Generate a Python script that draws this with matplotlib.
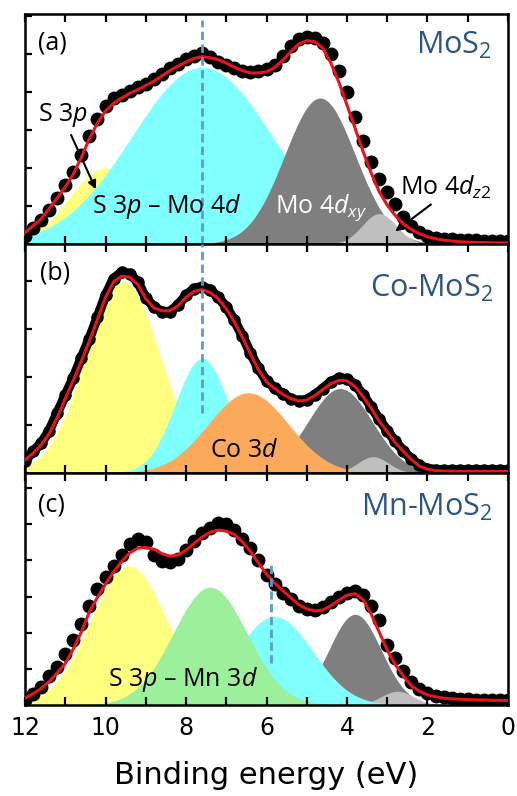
import numpy as np
import matplotlib
matplotlib.use("Agg")
import matplotlib.pyplot as plt
from matplotlib.ticker import MultipleLocator

plt.rcParams['font.family'] = ['DejaVu Sans']
plt.rcParams['mathtext.fontset'] = 'custom'
plt.rcParams['mathtext.rm'] = 'Open Sans'
plt.rcParams['mathtext.it'] = 'Open Sans:italic'

# energie (eV), pas de 0.2 eV, de 12 a 0
energy = np.round(np.arange(12.0, -0.01, -0.2), 1)

# MoS2 : points mesures et ajustement
mos2_data = [0.22, 0.42, 0.62, 0.90, 1.20, 1.55, 1.90, 2.35, 2.85, 3.30,
             3.62, 3.85, 3.92, 4.02, 4.12, 4.22, 4.33, 4.48, 4.62, 4.74,
             4.86, 4.95, 5.02, 4.92, 4.80, 4.72, 4.62, 4.55, 4.52, 4.55,
             4.60, 4.72, 4.95, 5.22, 5.40, 5.45, 5.42, 5.30, 5.00, 4.55,
             4.00, 3.35, 2.72, 2.15, 1.72, 1.38, 1.05, 0.72, 0.48, 0.32,
             0.22, 0.17, 0.14, 0.12, 0.11, 0.10, 0.10, 0.09, 0.09, 0.09,
             0.09]
mos2_fit = [0.30, 0.48, 0.66, 0.93, 1.21, 1.50, 1.84, 2.28, 2.77, 3.18,
            3.50, 3.70, 3.84, 3.96, 4.06, 4.17, 4.28, 4.42, 4.56, 4.68,
            4.79, 4.88, 4.93, 4.90, 4.85, 4.76, 4.65, 4.56, 4.50, 4.50,
            4.53, 4.64, 4.83, 5.06, 5.26, 5.35, 5.32, 5.15, 4.76, 4.25,
            3.65, 3.05, 2.43, 1.87, 1.38, 1.02, 0.75, 0.53, 0.38, 0.27,
            0.19, 0.14, 0.10, 0.08, 0.06, 0.05, 0.04, 0.04, 0.03, 0.03,
            0.03]

# Co-MoS2
co_data = [0.25, 0.45, 0.62, 0.88, 1.25, 1.62, 1.98, 2.40, 2.80, 3.25,
           3.70, 4.05, 4.18, 4.15, 3.98, 3.65, 3.46, 3.36, 3.36, 3.50,
           3.70, 3.84, 3.88, 3.82, 3.66, 3.46, 3.18, 2.86, 2.50, 2.18,
           1.92, 1.77, 1.65, 1.55, 1.50, 1.53, 1.63, 1.76, 1.90, 1.98,
           1.96, 1.84, 1.63, 1.38, 1.12, 0.88, 0.66, 0.46, 0.29, 0.16,
           0.09, 0.07, 0.06, 0.06, 0.06, 0.06, 0.06, 0.06, 0.06, 0.06,
           0.06]
co_fit = [0.27, 0.41, 0.58, 0.82, 1.15, 1.55, 1.93, 2.33, 2.75, 3.20,
          3.66, 3.98, 4.10, 4.08, 3.93, 3.63, 3.44, 3.38, 3.38, 3.48,
          3.66, 3.78, 3.82, 3.76, 3.63, 3.42, 3.15, 2.83, 2.48, 2.15,
          1.90, 1.76, 1.64, 1.55, 1.50, 1.52, 1.61, 1.74, 1.86, 1.93,
          1.92, 1.80, 1.59, 1.35, 1.08, 0.86, 0.63, 0.45, 0.28, 0.14,
          0.08, 0.05, 0.04, 0.04, 0.03, 0.03, 0.03, 0.03, 0.03, 0.03,
          0.03]

# Mn-MoS2
mn_data = [0.15, 0.30, 0.50, 0.80, 1.05, 1.40, 1.80, 2.25, 2.75, 3.20,
           3.55, 3.85, 4.15, 4.45, 4.58, 4.50, 4.15, 3.98, 3.95, 4.05,
           4.30, 4.55, 4.75, 4.90, 5.05, 5.00, 4.85, 4.60, 4.35, 4.00,
           3.60, 3.35, 3.10, 2.92, 2.75, 2.66, 2.62, 2.70, 2.85, 3.00,
           3.10, 3.15, 3.05, 2.75, 2.35, 1.65, 1.30, 0.95, 0.65, 0.45,
           0.32, 0.25, 0.21, 0.19, 0.17, 0.16, 0.15, 0.15, 0.14, 0.14,
           0.14]
mn_fit = [0.19, 0.31, 0.46, 0.65, 0.89, 1.15, 1.55, 2.02, 2.58, 2.98,
          3.35, 3.68, 3.97, 4.21, 4.34, 4.36, 4.31, 4.19, 4.12, 4.15,
          4.28, 4.47, 4.65, 4.78, 4.84, 4.81, 4.72, 4.52, 4.25, 3.93,
          3.62, 3.38, 3.17, 2.97, 2.78, 2.66, 2.60, 2.63, 2.75, 2.90,
          3.04, 3.08, 2.92, 2.52, 2.02, 1.52, 1.12, 0.80, 0.53, 0.38,
          0.28, 0.23, 0.19, 0.17, 0.16, 0.15, 0.14, 0.14, 0.13, 0.13,
          0.12]

# composantes gaussiennes (centre eV, hauteur, largeur), dans l'ordre de trace
mos2_centers = [10.0, 7.6, 4.67, 3.2]
mos2_heights = [2.0, 4.65, 3.84, 0.8]
mos2_widths = [0.9, 1.75, 0.88, 0.42]
mos2_colors = ['#ffff80', '#80ffff', '#7f7f7f', '#bfbfbf']

co_centers = [9.56, 4.17, 3.35, 7.6, 6.45]
co_heights = [3.99, 1.76, 0.34, 2.39, 1.67]
co_widths = [0.93, 0.8, 0.38, 0.66, 1.0]
co_colors = ['#ffff80', '#7f7f7f', '#bfbfbf', '#80ffff', '#fbaa5c']

mn_centers = [9.42, 3.8, 2.75, 5.8, 7.4]
mn_heights = [3.85, 2.51, 0.38, 2.45, 3.26]
mn_widths = [0.95, 0.65, 0.4, 0.95, 0.92]
mn_colors = ['#ffff80', '#7f7f7f', '#bfbfbf', '#80ffff', '#9cf09c']

y_tops = [6.05, 4.77, 6.42]
blue = '#5b9bd5'
title_blue = '#2b5583'
red = '#e8141b'

fig = plt.figure(figsize=(5.17, 7.96), dpi=100)
left, width = 25 / 517, 483 / 517
ax_a = fig.add_axes([left, 1 - 244 / 796, width, 230 / 796])
ax_b = fig.add_axes([left, 1 - 473 / 796, width, 229 / 796])
ax_c = fig.add_axes([left, 1 - 705 / 796, width, 232 / 796])

xs = np.linspace(0, 12, 601)
panels = [
    (ax_a, mos2_data, mos2_fit, mos2_centers, mos2_heights, mos2_widths, mos2_colors),
    (ax_b, co_data, co_fit, co_centers, co_heights, co_widths, co_colors),
    (ax_c, mn_data, mn_fit, mn_centers, mn_heights, mn_widths, mn_colors),
]

for i, (ax, data, fit, cen, hgt, wid, cols) in enumerate(panels):
    for c, h, w, col in zip(cen, hgt, wid, cols):
        g = h * np.exp(-(xs - c) ** 2 / (2 * w ** 2))
        ax.fill_between(xs, 0, g, color=col, lw=0, zorder=1)
    if i == 1:
        ax.plot(energy, data, '-o', color='k', lw=7, ms=8, zorder=3)
    else:
        ax.plot(energy, data, 'o', color='k', ms=9, zorder=3)
    ax.plot(energy, fit, color=red, lw=2.2, zorder=4)

    ax.set_xlim(12, 0)
    ax.set_ylim(0, y_tops[i])
    ax.xaxis.set_major_locator(MultipleLocator(2))
    ax.xaxis.set_minor_locator(MultipleLocator(1))
    ax.set_yticks(np.arange(1, int(y_tops[i]) + 1))
    ax.set_yticklabels([])
    ax.tick_params(axis='x', which='both', direction='in', top=True, bottom=True,
                   width=1.6, length=6, labelsize=17, pad=8)
    ax.tick_params(axis='y', direction='in', left=True, right=False, width=1.6, length=5)
    for sp in ax.spines.values():
        sp.set_linewidth(1.8)
    if i < 2:
        ax.set_xticklabels([])

# lignes pointillees
ax_a.axvline(7.6, ymin=0, ymax=0.972, color=blue, ls=(0, (3, 1.6)), lw=2, zorder=6)
ax_b.axvline(7.6, ymin=0.262, ymax=1, color=blue, ls=(0, (3, 1.6)), lw=2, zorder=6)
ax_c.plot([5.9, 5.9], [1.17, 3.9], color=blue, ls=(0, (3, 1.6)), lw=2, zorder=6)

ann = dict(fontsize=18, family='Open Sans', zorder=7)
lab = dict(fontsize=18, family='Open Sans', zorder=7)
ttl = dict(fontsize=22, family='Open Sans', color=title_blue, ha='right', va='baseline')

# panneau (a)
ax_a.text(0.027, 0.873, '(a)', transform=ax_a.transAxes, va='center', **lab)
ax_a.text(0.967, 0.825, 'MoS$_2$', transform=ax_a.transAxes, **ttl)
ax_a.text(0.027, 0.535, 'S 3$p$', transform=ax_a.transAxes, va='baseline', **ann)
ax_a.annotate('', xy=(0.149, 0.227), xytext=(0.093, 0.485), xycoords='axes fraction',
              arrowprops=dict(arrowstyle='-|>', color='k', lw=1.5, mutation_scale=12))
ax_a.text(0.139, 0.135, 'S 3$p$ – Mo 4$d$', transform=ax_a.transAxes, va='baseline', **ann)
ax_a.text(0.518, 0.137, 'Mo 4$d_{xy}$', transform=ax_a.transAxes, va='baseline',
          color='white', fontsize=18, family='Open Sans', zorder=7)
ax_a.text(0.776, 0.214, 'Mo 4$d_{z2}$', transform=ax_a.transAxes, va='baseline', **ann)
ax_a.annotate('', xy=(0.762, 0.048), xytext=(0.845, 0.179), xycoords='axes fraction',
              arrowprops=dict(arrowstyle='-|>', color='k', lw=1.5, mutation_scale=12))

# panneau (b)
ax_b.text(0.031, 0.873, '(b)', transform=ax_b.transAxes, va='center', **lab)
ax_b.text(0.969, 0.77, 'Co-MoS$_2$', transform=ax_b.transAxes, **ttl)
ax_b.text(0.383, 0.071, 'Co 3$d$', transform=ax_b.transAxes, va='baseline', **ann)

# panneau (c)
ax_c.text(0.027, 0.861, '(c)', transform=ax_c.transAxes, va='center', **lab)
ax_c.text(0.969, 0.815, 'Mn-MoS$_2$', transform=ax_c.transAxes, **ttl)
ax_c.text(0.172, 0.082, 'S 3$p$ – Mn 3$d$', transform=ax_c.transAxes, va='baseline', **ann)

ax_c.set_xlabel('Binding energy (eV)', fontsize=22, labelpad=15)

fig.savefig('out.png', dpi=100)
